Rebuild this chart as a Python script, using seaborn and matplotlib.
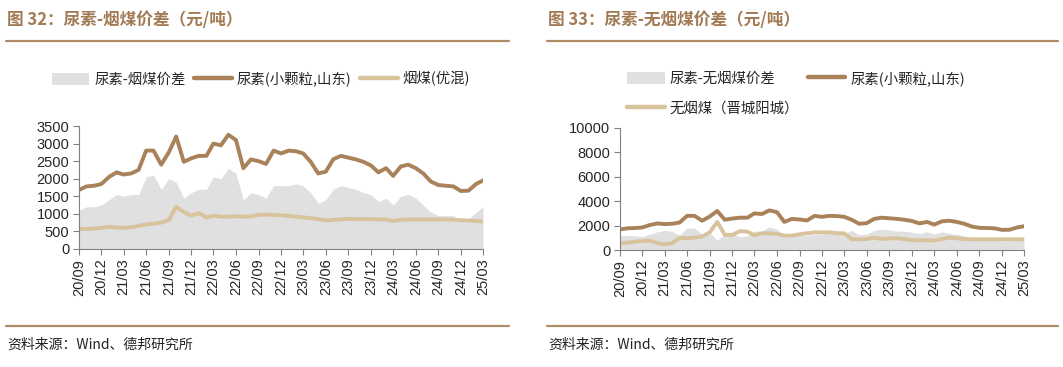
import numpy as np
import pandas as pd
import matplotlib
matplotlib.use("Agg")
import matplotlib.pyplot as plt
import matplotlib.dates as mdates
from matplotlib.lines import Line2D
from matplotlib.patches import Patch
import seaborn as sns

# monthly points, 2020/09 .. 2025/03
dates = pd.date_range("2020-09-01", "2025-03-01", freq="MS")

urea = [1680, 1780, 1800, 1850, 2050, 2180, 2120, 2150, 2250, 2800, 2800, 2400,
        2750, 3200, 2480, 2580, 2650, 2650, 3000, 2950, 3250, 3100, 2300, 2550,
        2500, 2420, 2800, 2720, 2800, 2780, 2720, 2480, 2150, 2200, 2550, 2650,
        2600, 2550, 2480, 2380, 2180, 2300, 2080, 2350, 2400, 2300, 2150, 1920,
        1820, 1800, 1780, 1650, 1660, 1850, 1950]

coal = [570, 570, 580, 600, 630, 610, 600, 620, 660, 700, 720, 750,
        820, 1200, 1050, 950, 1020, 900, 950, 920, 920, 930, 920, 930,
        970, 980, 970, 960, 940, 920, 900, 880, 850, 810, 830, 840,
        860, 850, 850, 850, 840, 840, 800, 830, 840, 840, 840, 840,
        840, 840, 830, 820, 810, 800, 780]

spread_coal = [1100, 1200, 1200, 1250, 1400, 1550, 1500, 1550, 1550, 2050, 2100, 1700,
               2000, 1900, 1450, 1600, 1700, 1700, 2050, 2000, 2300, 2150, 1400, 1600,
               1550, 1450, 1800, 1800, 1800, 1850, 1800, 1600, 1300, 1400, 1700, 1800,
               1750, 1700, 1600, 1550, 1350, 1450, 1250, 1500, 1550, 1450, 1250, 1050,
               950, 950, 950, 800, 850, 1050, 1200]

anthracite = [550, 600, 680, 740, 770, 550, 470, 550, 1000, 960, 1010, 1100,
              1450, 2300, 1250, 1230, 1550, 1500, 1200, 1370, 1370, 1320, 1180, 1180,
              1290, 1370, 1450, 1450, 1450, 1370, 1370, 880, 880, 900, 1010, 900,
              960, 960, 900, 800, 800, 800, 770, 900, 1010, 960, 900, 880,
              880, 880, 880, 880, 880, 880, 880]

spread_anth = [1200, 1200, 1150, 1100, 1300, 1500, 1600, 1550, 1200, 1800, 1800, 1300,
               1400, 800, 1300, 1350, 1100, 1150, 1550, 1550, 1900, 1700, 1100, 1300,
               1200, 1200, 1300, 1300, 1350, 1350, 1350, 1600, 1250, 1300, 1600, 1700,
               1650, 1550, 1550, 1450, 1350, 1500, 1300, 1500, 1350, 1300, 1150, 1000,
               900, 900, 900, 750, 750, 950, 1050]

tick_dates = pd.date_range("2020-09-01", "2025-03-01", freq="3MS")

BROWN = "#a9825a"
TAN = "#d9c39c"
GRAY = "#e0e0e0"
TITLE_C = "#a27b55"
RULE_C = "#b08b68"

sns.set_style("ticks")
plt.rcParams["font.family"] = ["Liberation Sans", "Noto Sans CJK SC", "DejaVu Sans"]
CJK = ["Noto Sans CJK SC", "DejaVu Sans"]

W, H = 1063, 367
fig = plt.figure(figsize=(W / 100, H / 100), dpi=100)


def px_axes(x0, y_top, x1, y_bot):
    return fig.add_axes([x0 / W, 1 - y_bot / H, (x1 - x0) / W, (y_bot - y_top) / H])


def style_axes(ax, ymax, ystep):
    ax.set_xlim(dates[0], dates[-1])
    ax.set_ylim(0, ymax)
    ax.set_yticks(np.arange(0, ymax + 1, ystep))
    ax.set_xticks(tick_dates)
    ax.xaxis.set_major_formatter(mdates.DateFormatter("%y/%m"))
    ax.tick_params(axis="x", rotation=90, labelsize=10.5, length=4, color="#808080", pad=3)
    ax.tick_params(axis="y", labelsize=10.5, length=4, color="#808080", pad=3)
    for s in ["left", "bottom"]:
        ax.spines[s].set_color("#808080")
        ax.spines[s].set_linewidth(0.8)
    sns.despine(ax=ax)
    ax.set_xlabel("")
    ax.set_ylabel("")


def frame(x0, x1, title):
    fig.text(x0 + 1 / W, 1 - 20 / H, title, family=CJK, fontsize=12, fontweight="bold",
             color=TITLE_C, va="center", ha="left")
    fig.add_artist(Line2D([x0, x1], [1 - 41 / H, 1 - 41 / H], color=RULE_C, lw=1.6))
    fig.add_artist(Line2D([x0, x1], [1 - 326 / H, 1 - 326 / H], color=RULE_C, lw=1.6))
    fig.text(x0 + 1 / W, 1 - 345 / H, "资料来源：Wind、德邦研究所", family=CJK,
             fontsize=10, color="#222222", va="center", ha="left")


df_left = pd.DataFrame({"date": dates, "urea": urea, "coal": coal, "spread": spread_coal})
df_right = pd.DataFrame({"date": dates, "urea": urea, "anth": anthracite, "spread": spread_anth})

# left chart
ax1 = px_axes(79, 126, 483, 249)
ax1.fill_between(df_left["date"], 0, df_left["spread"], color=GRAY, lw=0)
sns.lineplot(data=df_left, x="date", y="urea", ax=ax1, color=BROWN, lw=2.8)
sns.lineplot(data=df_left, x="date", y="coal", ax=ax1, color=TAN, lw=2.8)
style_axes(ax1, 3500, 500)

h_spread1 = Patch(facecolor=GRAY, edgecolor="none")
h_urea = Line2D([], [], color=BROWN, lw=3.2)
h_coal = Line2D([], [], color=TAN, lw=3.2)
fig.legend([h_spread1, h_urea, h_coal], ["尿素-烟煤价差", "尿素(小颗粒,山东)", "烟煤(优混)"],
           loc="center", bbox_to_anchor=(261 / W, 1 - 79 / H), ncol=3, frameon=False,
           prop={"family": CJK, "size": 10.4}, handlelength=2.6, handletextpad=0.35,
           columnspacing=0.6, handleheight=0.9)

# right chart
ax2 = px_axes(620, 128, 1024, 250)
ax2.fill_between(df_right["date"], 0, df_right["spread"], color=GRAY, lw=0)
sns.lineplot(data=df_right, x="date", y="urea", ax=ax2, color=BROWN, lw=2.8)
sns.lineplot(data=df_right, x="date", y="anth", ax=ax2, color=TAN, lw=2.8)
style_axes(ax2, 10000, 2000)

h_anth = Line2D([], [], color=TAN, lw=3.2)
fig.legend([h_spread1, h_anth, h_urea], ["尿素-无烟煤价差", "无烟煤（晋城阳城）", "尿素(小颗粒,山东)"],
           loc="upper left", bbox_to_anchor=(614 / W, 1 - 58 / H), ncol=2, frameon=False,
           prop={"family": CJK, "size": 10.4}, handlelength=2.6, handletextpad=0.35,
           columnspacing=0.6, handleheight=0.9, labelspacing=1.1)

frame(6 / W, 509 / W, "图 32：尿素-烟煤价差（元/吨）")
frame(547 / W, 1058 / W, "图 33：尿素-无烟煤价差（元/吨）")

fig.savefig("out.png", dpi=100)
